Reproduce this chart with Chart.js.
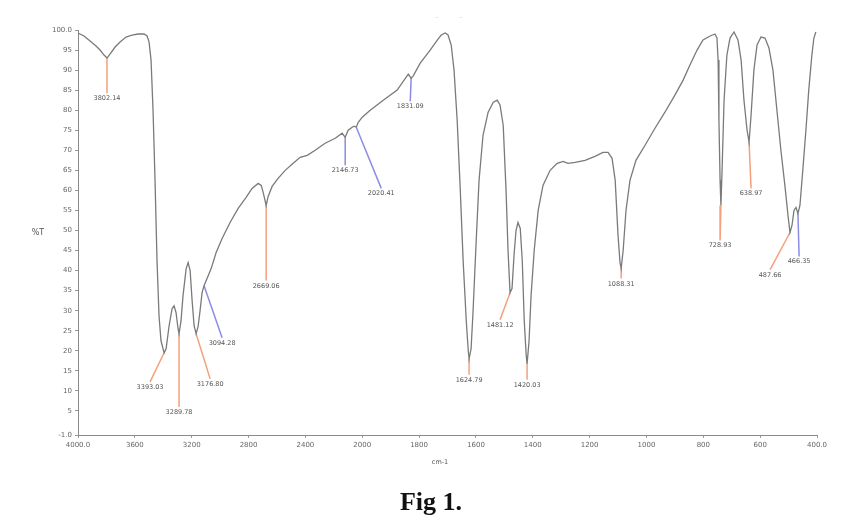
<!DOCTYPE html>
<html><head><meta charset="utf-8">
<script src="https://cdn.jsdelivr.net/npm/chart.js@4"></script>
<style>html,body{margin:0;padding:0;background:#fff;}#wrap{width:863px;height:520px;}</style>
</head><body><div id="wrap"><canvas id="c" width="863" height="520"></canvas></div>
<script>
// ---- data ----
const wavenumbers = [4000,3958,3915,3873,3845,3817,3796,3775,3739,3704,
3662,3620,3577,3535,3514,3500,3486,3472,3458,3444,
3430,3416,3394,3380,3359,3338,3324,3310,3296,3289,
3275,3261,3239,3225,3211,3197,3183,3169,3155,3141,
3127,3113,3092,3063,3028,2986,2930,2873,2817,2775,
2732,2711,2697,2676,2662,2634,2592,2542,2486,2437,
2387,2331,2261,2190,2141,2120,2099,2071,2057,2042,
2028,2000,1972,1926,1877,1838,1828,1821,1796,1761,
1736,1722,1708,1698,1687,1677,1666,1655,1645,1634,
1627,1624,1617,1610,1599,1589,1575,1557,1539,1525,
1515,1504,1494,1487,1480,1473,1466,1459,1452,1444,
1437,1430,1423,1420,1413,1406,1395,1381,1364,1339,
1314,1293,1276,1251,1216,1181,1153,1135,1121,1110,
1100,1093,1089,1082,1072,1058,1037,1005,970,935,
900,871,847,822,801,776,759,752,748,745,
741,738,734,727,717,706,692,678,667,657,
646,639,632,622,611,597,583,569,555,541,
527,513,502,495,488,481,474,467,460,450,
439,429,418,411,404];
const transmittance = [99.25,98.5,97.25,96,95,93.75,93,94,95.75,97,
98.25,98.75,99,99,98.5,97,92.5,80,62.5,42.5,
28.75,22.5,19.5,20.5,26.25,30.5,31.25,29.5,25.5,24.25,
27.5,33.75,40.5,42,40,32.5,26.25,24.25,26,30,
34.5,36.25,38,40.5,44.5,48,52,55.5,58.25,60.5,
61.75,61.25,59.5,56.25,58.5,61,63,65,66.75,68.25,
68.75,70,71.75,73,74.25,73.25,75,75.75,76,75.75,
77,78.25,80,82.5,85,89,88,88.5,91.75,95,
97.5,98.75,99.25,98.75,96.25,90,77.5,60,42.5,27.5,
20,18,20.5,30,47.5,62.5,73.75,79.5,82,82.5,
81.25,76.25,60,45,34.5,35.5,43.75,50,52,50.5,
42.5,27.5,18.75,16.75,22.5,33.75,45,55,61.25,65,
66.75,67.25,66.75,67,67.5,68.5,69.5,69.5,68,62.5,
48.75,42,40.5,45,55,62.5,67.5,71.25,75.5,79.5,
83.75,87.5,91.25,95,97.5,98.5,99,98,92.5,77.5,
62.5,56.25,65,82.5,93.75,98,99.5,97.5,92.5,82.5,
75,72,78.75,90,96.25,98.25,98,95.5,90,80,
70,61.25,53.75,49.5,51.25,55,55.75,54.25,56.25,65,
75,85,93.75,98,99.5];

const peakWn     = [3796,3394,3289,3169,3113,2676,2120,2042,1828,1624,1480,1420,1089,738,639,495,467];
const peakLabels = ["3802.14","3393.03","3289.78","3176.80","3094.28","2669.06","2146.73","2020.41","1831.09","1624.79","1481.12","1420.03","1088.31","728.93","638.97","487.66","466.35"];
const labelWn    = [3796,3493,3289,3070,2986,2676,2120,1933,1831,1624,1515,1420,1089,741,632,565,463];
const labelT     = [84.25,12.25,6,13,23.25,37.5,66.25,60.5,82.25,14,27.75,12.75,38,47.5,60.5,40.25,43.5];
const peakGroup  = ["a","a","a","a","b","a","b","b","b","a","a","a","a","a","a","a","b"];

const xTickValues = [4000,3600,3200,2800,2400,2000,1800,1600,1400,1200,1000,800,600,400];
const xTickLabels = ["4000.0","3600","3200","2800","2400","2000","1800","1600","1400","1200","1000","800","600","400.0"];
const yTickValues = [100,95,90,85,80,75,70,65,60,55,50,45,40,35,30,25,20,15,10,5,-1];
const yTickLabels = ["100.0","95","90","85","80","75","70","65","60","55","50","45","40","35","30","25","20","15","10","5","-1.0"];

// ---- helpers ----
// instrument axis: scale above 2000 cm-1 is compressed by factor 2
function toAxis(v){ return v <= 2000 ? v : 2000 + (v - 2000) / 2; }
function interpT(v){
  for (let i = 0; i < wavenumbers.length - 1; i++){
    const a = wavenumbers[i], b = wavenumbers[i+1];
    if (v <= a && v >= b){
      const t = (a - v) / (a - b);
      return transmittance[i] + t * (transmittance[i+1] - transmittance[i]);
    }
  }
  return transmittance[transmittance.length-1];
}
const groupColor = {a:'#f4a07c', b:'#8c8ce6'};

const datasets = [{
  data: wavenumbers.map((v,i)=>({x:toAxis(v), y:transmittance[i]})),
  borderColor:'#7a7a7a', borderWidth:1.3, pointRadius:0, tension:0, order:0
}];
peakWn.forEach((v,i)=>{
  datasets.push({
    data:[{x:toAxis(v), y:interpT(v)},{x:toAxis(labelWn[i]), y:labelT[i]}],
    borderColor:groupColor[peakGroup[i]], borderWidth:1.5, pointRadius:0, order:1
  });
});

const textPlugin = {
  id:'texts',
  afterDatasetsDraw(chart){
    const {ctx, chartArea, scales:{x,y}} = chart;
    ctx.save();
    ctx.fillStyle = '#555';
    ctx.font = '6.5px "DejaVu Sans"';
    ctx.textAlign = 'center';
    ctx.textBaseline = 'top';
    peakLabels.forEach((t,i)=>{
      const px = x.getPixelForValue(toAxis(labelWn[i]));
      const py = y.getPixelForValue(labelT[i]);
      ctx.fillText(t, px, py + 2);
    });
    ctx.fillStyle = '#555';
    ctx.font = '8px "DejaVu Sans"';
    ctx.textBaseline = 'middle';
    ctx.fillText('%T', chartArea.left - 40, (chartArea.top + chartArea.bottom)/2);
    ctx.font = '6.5px "DejaVu Sans"';
    ctx.fillText('cm-1', 440, chartArea.bottom + 27);
    ctx.fillStyle = '#bbb';
    ctx.fillText('-', 437, 17);
    ctx.fillText('-', 461, 17);
    ctx.fillStyle = '#111';
    ctx.font = 'bold 26px "Liberation Serif"';
    ctx.fillText('Fig 1.', 431, 503);
    ctx.restore();
  }
};

new Chart(document.getElementById('c'), {
  type:'line',
  data:{datasets},
  plugins:[textPlugin],
  options:{
    responsive:false, animation:false, devicePixelRatio:1,
    layout:{padding:{left:30, top:30, right:46, bottom:60}},
    plugins:{legend:{display:false}, tooltip:{enabled:false}},
    scales:{
      x:{
        type:'linear', reverse:true, min:toAxis(400), max:toAxis(4000),
        afterBuildTicks:s=>{ s.ticks = xTickValues.map(v=>({value:toAxis(v)})); },
        afterFit:s=>{ s.height = 25; },
        ticks:{autoSkip:false, maxRotation:0, padding:3, color:'#666',
          font:{size:7, family:'DejaVu Sans'},
          callback:(val)=>{ const k = xTickValues.findIndex(v=>toAxis(v)===val); return k>=0 ? xTickLabels[k] : ''; }},
        grid:{drawOnChartArea:false, drawTicks:true, tickLength:3, color:'#999'},
        border:{display:true, color:'#8a8a8a', width:1}
      },
      y:{
        min:-1, max:100,
        afterBuildTicks:s=>{ s.ticks = yTickValues.map(v=>({value:v})); },
        afterFit:s=>{ s.width = 48; },
        ticks:{autoSkip:false, padding:3, color:'#666',
          font:{size:7, family:'DejaVu Sans'},
          callback:(val)=>{ const k = yTickValues.indexOf(val); return k>=0 ? yTickLabels[k] : ''; }},
        grid:{drawOnChartArea:false, drawTicks:true, tickLength:3, color:'#999'},
        border:{display:true, color:'#8a8a8a', width:1}
      }
    }
  }
});
</script></body></html>
